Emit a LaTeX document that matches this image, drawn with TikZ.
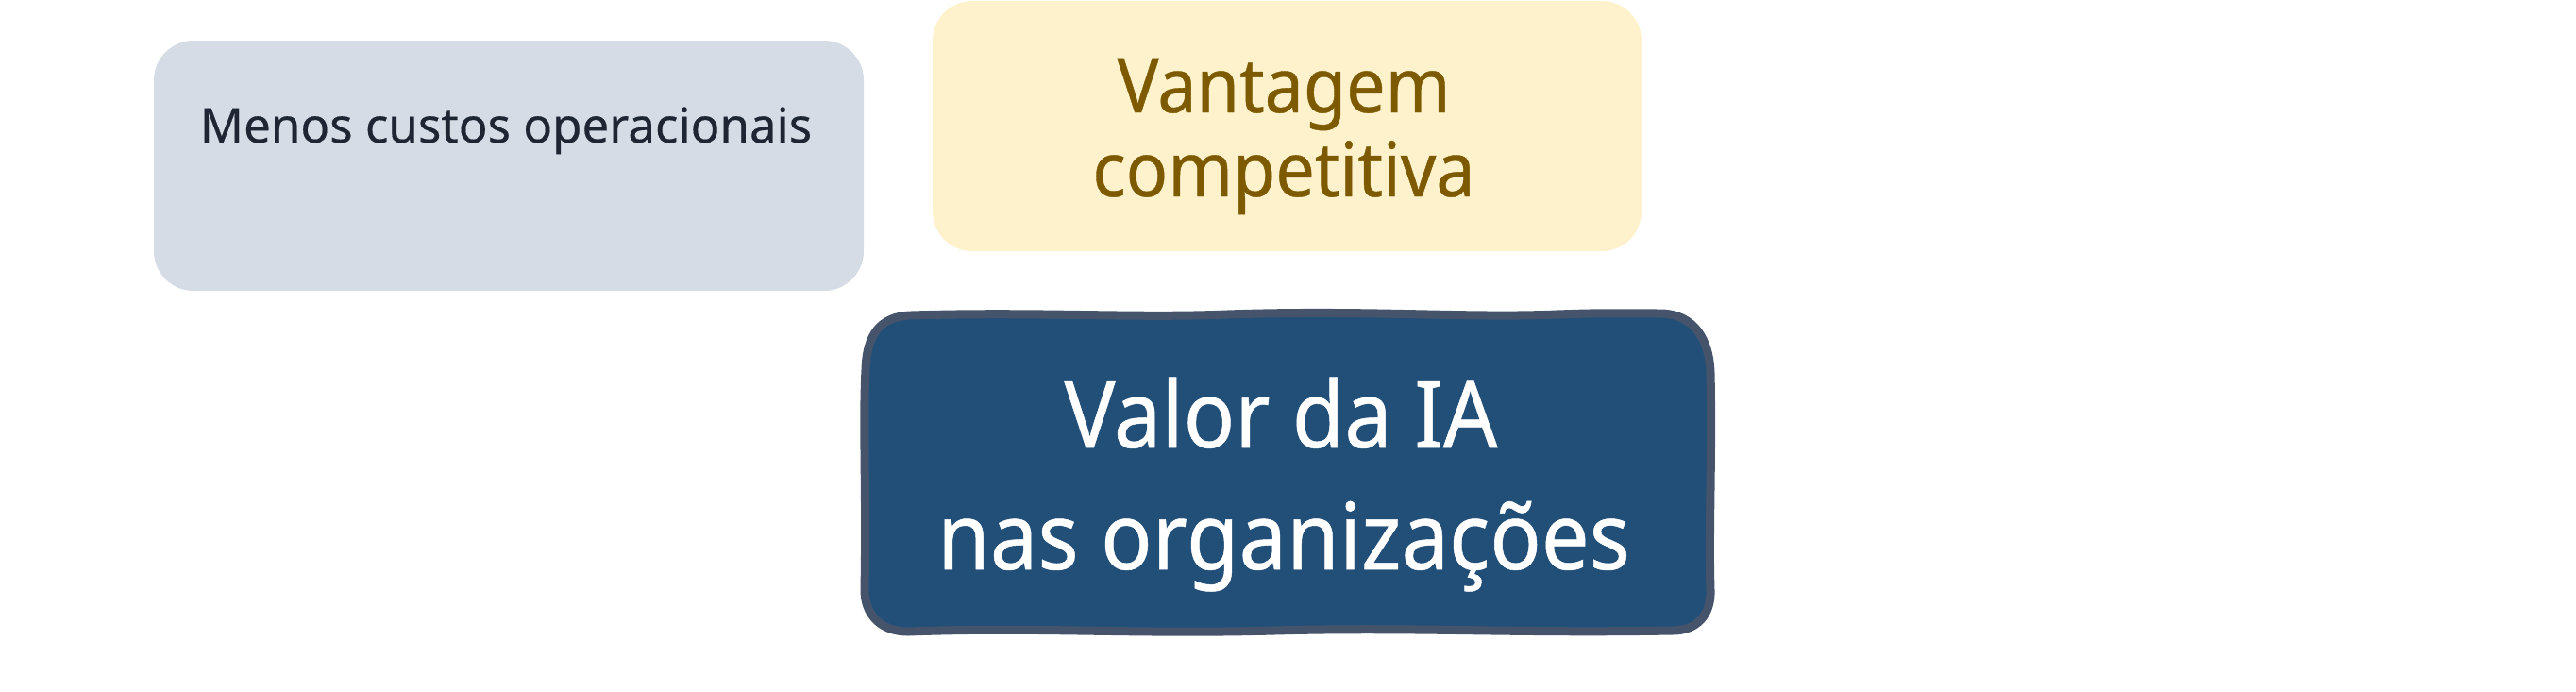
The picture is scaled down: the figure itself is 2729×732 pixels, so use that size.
\documentclass[tikz,border=0pt]{standalone}
\usepackage{fontspec}
\setmainfont{Noto Sans}
\newfontfamily\narrowfont{Noto Sans}[FakeStretch=0.92,FakeBold=0.5]
\newfontfamily\grayfont{Noto Sans}[FakeStretch=1.0,FakeBold=0.3]
\definecolor{grayfill}{HTML}{D6DCE5}
\definecolor{graytext}{HTML}{1F2633}
\definecolor{yelfill}{HTML}{FEF2CD}
\definecolor{yeltext}{HTML}{7D5A00}
\definecolor{bluefill}{HTML}{224F78}
\definecolor{blueedge}{HTML}{46546B}
\begin{document}
\begin{tikzpicture}[x=1pt,y=-1pt,
  softbox/.style={draw=none,rounded corners=42pt,inner sep=0pt,minimum width=#1},
  gtext/.style={text=graytext,font=\grayfont\fontsize{51}{60}\selectfont,inner sep=0pt,anchor=base},
  ytext/.style={text=yeltext,font=\narrowfont\fontsize{80}{89}\selectfont,inner sep=0pt,anchor=base},
  btext/.style={text=white,font=\narrowfont\fontsize{98}{129}\selectfont,inner sep=0pt,anchor=base}]
\useasboundingbox (0,0) rectangle (2729,732);
% gray box
\node[softbox=752pt,fill=grayfill,minimum height=265pt] (costs) at (539,175.5) {};
\node[gtext] (costsT) at (536,151) {Menos custos operacionais};
% yellow box
\node[softbox=751pt,fill=yelfill,minimum height=265pt] (vant) at (1363.5,133.5) {};
\node[ytext] (vantA) at (1360,119) {Vantagem};
\node[ytext] (vantB) at (1360,208) {competitiva};
% blue hand-drawn box
\path[fill=bluefill,draw=blueedge,line width=9pt,line join=round]
  (965,334) .. controls (1100,330) and (1200,337) .. (1300,333)
  .. controls (1450,328) and (1550,337) .. (1650,333)
  .. controls (1700,331) and (1730,332) .. (1760,332)
  .. controls (1795,333) and (1811,360) .. (1812,395)
  .. controls (1814,480) and (1810,560) .. (1812,625)
  .. controls (1813,652) and (1797,668) .. (1772,668)
  .. controls (1600,671) and (1500,664) .. (1350,668)
  .. controls (1200,672) and (1100,664) .. (962,669)
  .. controls (932,669) and (916,650) .. (916,625)
  .. controls (918,520) and (914,450) .. (917,392)
  .. controls (918,355) and (932,335) .. (965,334) -- cycle;
\node[btext] (valorA) at (1357,474) {Valor da IA};
\node[btext] (valorB) at (1360,603) {nas organizações};
\end{tikzpicture}
\end{document}
